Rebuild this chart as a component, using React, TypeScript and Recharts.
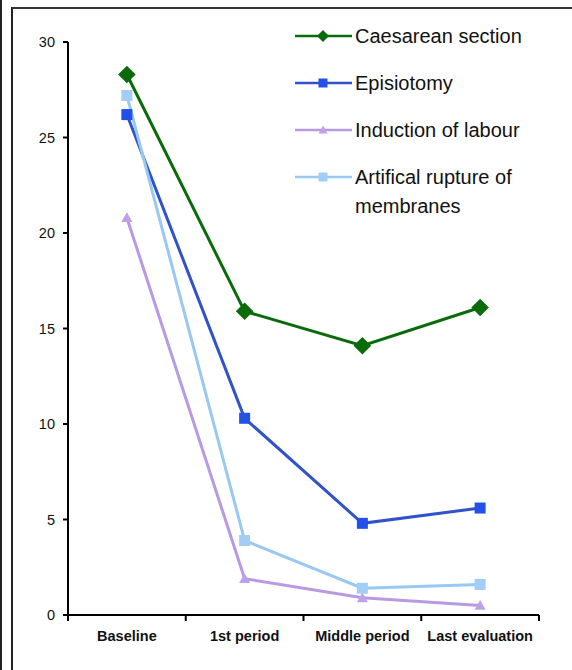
import { LineChart, Line, XAxis, YAxis } from 'recharts'

const periods = ['Baseline', '1st period', 'Middle period', 'Last evaluation']
const caesarean = [28.3, 15.9, 14.1, 16.1]
const episiotomy = [26.2, 10.3, 4.8, 5.6]
const induction = [20.8, 1.9, 0.9, 0.5]
const rupture = [27.2, 3.9, 1.4, 1.6]
const yTicks = [0, 5, 10, 15, 20, 25, 30]

const CHART_W = 572
const CHART_H = 670
const MARGIN = { top: 42, right: 33, bottom: 15, left: 0 }
const Y_AXIS_W = 68
// width of one category band, used to put tick marks between categories
const BAND = (CHART_W - MARGIN.left - MARGIN.right - Y_AXIS_W) / periods.length

const data = periods.map((period, i) => ({
  period,
  caesarean: caesarean[i],
  episiotomy: episiotomy[i],
  induction: induction[i],
  rupture: rupture[i],
}))

const series = [
  { key: 'caesarean', name: 'Caesarean section', color: '#0b6b0b', fill: '#0b6b0b', shape: 'diamond' },
  { key: 'episiotomy', name: 'Episiotomy', color: '#3152c8', fill: '#2250e8', shape: 'square' },
  { key: 'induction', name: 'Induction of labour', color: '#b999e2', fill: '#c0a0ea', shape: 'triangle' },
  { key: 'rupture', name: 'Artifical rupture of\nmembranes', color: '#99c8f2', fill: '#a2cdf6', shape: 'square' },
]

const Marker = ({ cx, cy, shape, fill, size }: any) => {
  if (cx == null || cy == null) return null
  if (shape === 'diamond') {
    const r = size * 0.55
    return <polygon points={`${cx},${cy - r} ${cx + r},${cy} ${cx},${cy + r} ${cx - r},${cy}`} fill={fill} />
  }
  if (shape === 'triangle') {
    const r = size * 0.5
    return <polygon points={`${cx},${cy - r} ${cx + r},${cy + r * 0.8} ${cx - r},${cy + r * 0.8}`} fill={fill} />
  }
  const h = size / 2
  return <rect x={cx - h} y={cy - h} width={size} height={size} fill={fill} />
}

// category label at the band centre, tick marks at the band edges
const PeriodTick = ({ x, y, payload, index }: any) => {
  const left = x - BAND / 2
  const right = x + BAND / 2
  return (
    <g>
      <line x1={left} y1={y - 8} x2={left} y2={y - 2} stroke="#000" strokeWidth={2} />
      {index === periods.length - 1 && <line x1={right} y1={y - 8} x2={right} y2={y - 2} stroke="#000" strokeWidth={2} />}
      <text x={x} y={y + 18} textAnchor="middle" fontSize={14.5} fontWeight="bold" fill="#111" fontFamily="'Liberation Sans', Arial, sans-serif">
        {payload.value}
      </text>
    </g>
  )
}

const LegendBox = () => (
  <div style={{ fontFamily: "'Liberation Sans', Arial, sans-serif", fontSize: 20, color: '#111' }}>
    {series.map((s) => {
      const lines = s.name.split('\n')
      return (
        <div key={s.key} style={{ display: 'flex', alignItems: 'flex-start', height: 47 }}>
          <svg width={60} height={24} style={{ flexShrink: 0 }}>
            <line x1={0} y1={12} x2={57} y2={12} stroke={s.color} strokeWidth={2.5} />
            <Marker cx={28} cy={12} shape={s.shape} fill={s.fill} size={s.shape === 'diamond' ? 11 : 9} />
          </svg>
          <div style={{ lineHeight: '29px', marginTop: -2.5 }}>
            {lines.map((l) => (
              <div key={l}>{l}</div>
            ))}
          </div>
        </div>
      )
    })}
  </div>
)

export default function App() {
  return (
    <div style={{ position: 'absolute', left: 0, top: 0, width: CHART_W, height: CHART_H, background: '#fff' }}>
      <div style={{ position: 'absolute', left: 0, top: 0, width: 2, height: CHART_H, background: '#222' }} />
      <div
        style={{
          position: 'absolute',
          left: 11,
          top: 7,
          width: 561,
          height: 663,
          borderLeft: '2px solid #222',
          borderTop: '2px solid #333',
        }}
      />
      <div style={{ position: 'absolute', left: 0, top: 0 }}>
        <LineChart width={CHART_W} height={CHART_H} data={data} margin={MARGIN}>
          <XAxis
            dataKey="period"
            scale="band"
            interval={0}
            height={40}
            axisLine={{ stroke: '#000', strokeWidth: 2 }}
            tickLine={false}
            tick={<PeriodTick />}
          />
          <YAxis
            domain={[0, 30]}
            ticks={yTicks}
            width={Y_AXIS_W}
            axisLine={{ stroke: '#000', strokeWidth: 2 }}
            tickLine={{ stroke: '#000', strokeWidth: 2 }}
            tickSize={5}
            tickMargin={8}
            tick={{ fill: '#111', fontSize: 14.5, fontFamily: "'Liberation Sans', Arial, sans-serif" }}
          />
          {series.map((s) => (
            <Line
              key={s.key}
              dataKey={s.key}
              name={s.name}
              stroke={s.color}
              strokeWidth={3}
              isAnimationActive={false}
              dot={(p: any) => (
                <Marker key={`${s.key}-${p.index}`} cx={p.cx} cy={p.cy} shape={s.shape} fill={s.fill} size={s.shape === 'diamond' ? 16 : 11} />
              )}
              activeDot={false}
            />
          ))}
        </LineChart>
      </div>
      <div style={{ position: 'absolute', left: 295, top: 24, width: 270 }}>
        <LegendBox />
      </div>
    </div>
  )
}
